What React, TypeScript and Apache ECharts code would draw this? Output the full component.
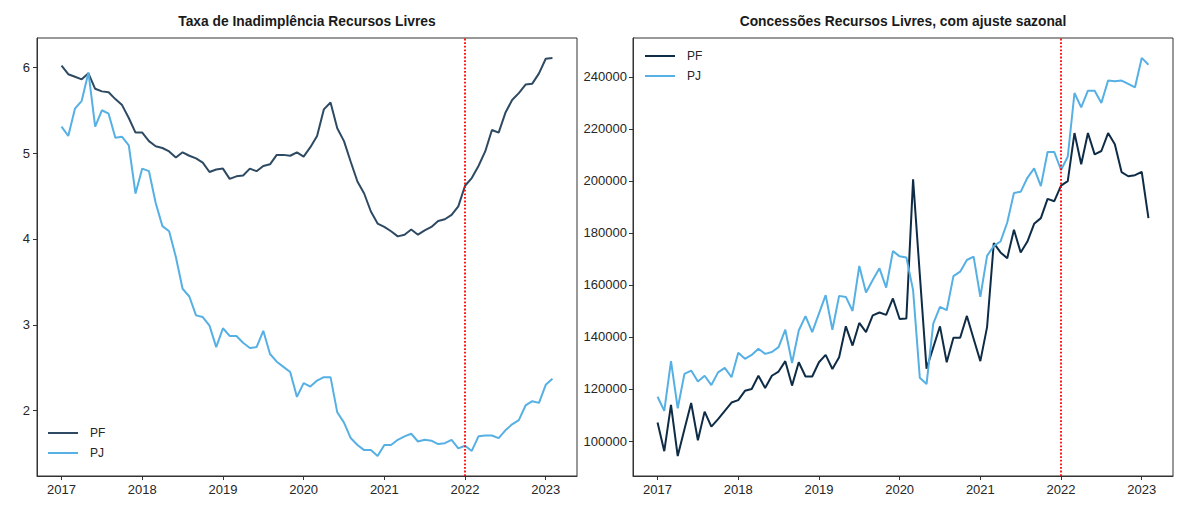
import React, { useEffect, useRef } from "react";
import * as echarts from "echarts";

// Monthly data, Jan 2017 .. Feb 2023 (74 months)
const startYear = 2017;
const monthCount = 74;

const yearTicks = [2017, 2018, 2019, 2020, 2021, 2022, 2023];
const rateTicks = [2, 3, 4, 5, 6];
const concTicks = [100000, 120000, 140000, 160000, 180000, 200000, 220000, 240000];
const markYear = 2022;

const titleLeft = "Taxa de Inadimplência Recursos Livres";
const titleRight = "Concessões Recursos Livres, com ajuste sazonal";

// Taxa de inadimplência (%)
const pfRate = [
  6.02, 5.92, 5.89, 5.86, 5.93, 5.75, 5.72, 5.71, 5.63, 5.56, 5.41, 5.24,
  5.24, 5.14, 5.08, 5.06, 5.02, 4.95, 5.01, 4.97, 4.94, 4.89, 4.78, 4.81,
  4.82, 4.7, 4.73, 4.74, 4.82, 4.79, 4.85, 4.87, 4.98, 4.98, 4.97, 5.01,
  4.96, 5.07, 5.2, 5.51, 5.59, 5.29, 5.14, 4.9, 4.67, 4.53, 4.32, 4.18,
  4.14, 4.09, 4.03, 4.05, 4.11, 4.05, 4.1, 4.14, 4.21, 4.23, 4.28, 4.38,
  4.62, 4.71, 4.85, 5.02, 5.27, 5.24, 5.47, 5.62, 5.7, 5.8, 5.81, 5.93,
  6.1, 6.11,
];
const pjRate = [
  5.31, 5.2, 5.52, 5.61, 5.94, 5.31, 5.5, 5.46, 5.18, 5.19, 5.09, 4.53,
  4.82, 4.79, 4.42, 4.15, 4.09, 3.79, 3.42, 3.33, 3.11, 3.09, 2.99, 2.74,
  2.96, 2.87, 2.87, 2.79, 2.73, 2.74, 2.93, 2.66, 2.57, 2.51, 2.45, 2.16,
  2.32, 2.28, 2.35, 2.39, 2.39, 1.98, 1.86, 1.68, 1.6, 1.54, 1.54, 1.47,
  1.6, 1.6, 1.66, 1.7, 1.73, 1.64, 1.66, 1.65, 1.61, 1.62, 1.66, 1.56,
  1.59, 1.53, 1.7, 1.71, 1.71, 1.68, 1.77, 1.84, 1.89, 2.06, 2.11, 2.09,
  2.3, 2.37,
];

// Concessões (com ajuste sazonal)
const pfConc = [
  107100, 96100, 113900, 94200, 104500, 114600, 100300, 111300, 105500, 108400, 111600, 114800,
  115700, 119300, 120000, 125100, 120400, 125100, 126700, 130700, 121300, 130300, 124800, 124800,
  130300, 133100, 127700, 132200, 144100, 136700, 145400, 141900, 148300, 149400, 148500, 154800,
  146900, 147100, 200600, 164000, 127800, 136000, 144100, 130300, 139700, 139700, 148100, 139300,
  130700, 143800, 176100, 172500, 170300, 181200, 172500, 176700, 183500, 185700, 193100, 192200,
  198200, 199900, 218400, 206400, 218400, 210200, 211500, 218400, 214100, 203400, 201800, 202200,
  203500, 185700,
];
const pjConc = [
  117000, 111600, 130700, 112600, 125800, 127100, 122900, 125100, 121500, 126400, 128100, 124500,
  133900, 131600, 133100, 135500, 133500, 134200, 136100, 142800, 130000, 142500, 148000, 141900,
  149000, 156100, 142800, 155800, 155400, 150000, 167300, 157100, 161900, 166400, 159000, 173000,
  171000, 170600, 158000, 124300, 121900, 145100, 151600, 150300, 163400, 165100, 169600, 170900,
  155400, 171200, 175000, 176700, 184000, 195400, 195800, 201200, 204800, 198000, 211100, 211100,
  204200, 209300, 233800, 228300, 234700, 234700, 230000, 238600, 238300, 238600, 237300, 236000,
  247300, 244700,
];

const xTime = Array.from({ length: monthCount }, (_, i) => startYear + i / 12);

const FONT = "'Liberation Sans', Arial, Helvetica, sans-serif";
const AX = "#333333";
const PF_LEFT = "#2e4a62";
const PF_RIGHT = "#0f2c46";
const PJ = "#56b0e4";

function padded(arrs: number[][]): [number, number] {
  const all = arrs.flat();
  const mn = Math.min(...all);
  const mx = Math.max(...all);
  const r = mx - mn;
  return [mn - 0.05 * r, mx + 0.05 * r];
}

function pairs(vals: number[]) {
  return vals.map((v, i) => [xTime[i], v]);
}

export default function App() {
  const ref = useRef<HTMLDivElement>(null);

  useEffect(() => {
    if (!ref.current) return;
    const chart = echarts.init(ref.current, null, { renderer: "svg" });

    const [xMin, xMax] = padded([xTime]);
    const [lMin, lMax] = padded([pfRate, pjRate]);
    const [rMin, rMax] = padded([pfConc, pjConc]);

    const grids = [
      { left: 37, top: 38, width: 540, height: 438 },
      { left: 633, top: 38, width: 540, height: 438 },
    ];

    const labelStyle = { color: "#262626", fontSize: 13, fontFamily: FONT };

    const xAxis = [0, 1].map((g) => ({
      type: "value",
      gridIndex: g,
      min: xMin,
      max: xMax,
      axisLine: { show: true, onZero: false, lineStyle: { color: AX, width: 1 } },
      axisTick: { show: true, length: 4, lineStyle: { color: AX }, customValues: yearTicks },
      axisLabel: { ...labelStyle, margin: 7, customValues: yearTicks, formatter: (v: number) => String(Math.round(v)) },
      splitLine: { show: false },
    }));

    const yAxis = [
      {
        type: "value",
        gridIndex: 0,
        min: lMin,
        max: lMax,
        axisLine: { show: true, onZero: false, lineStyle: { color: AX, width: 1 } },
        axisTick: { show: true, length: 4, lineStyle: { color: AX }, customValues: rateTicks },
        axisLabel: { ...labelStyle, margin: 7, customValues: rateTicks, formatter: (v: number) => String(Math.round(v)) },
        splitLine: { show: false },
      },
      {
        type: "value",
        gridIndex: 1,
        min: rMin,
        max: rMax,
        axisLine: { show: true, onZero: false, lineStyle: { color: AX, width: 1 } },
        axisTick: { show: true, length: 4, lineStyle: { color: AX }, customValues: concTicks },
        axisLabel: { ...labelStyle, margin: 6, customValues: concTicks, formatter: (v: number) => String(Math.round(v)) },
        splitLine: { show: false },
      },
    ];

    const markLine = {
      silent: true,
      symbol: ["none", "none"],
      label: { show: false },
      lineStyle: { color: "#ff0000", type: "dotted", width: 1.8 },
      data: [{ xAxis: markYear }],
      z: 10,
    };

    const lineSeries = (name: string, data: number[], g: number, color: string, withMark: boolean) => ({
      type: "line",
      name,
      xAxisIndex: g,
      yAxisIndex: g,
      data: pairs(data),
      symbol: "none",
      showSymbol: false,
      lineStyle: { color, width: 2 },
      itemStyle: { color },
      ...(withMark ? { markLine } : {}),
    });

    const legendBase = {
      orient: "vertical",
      icon: "rect",
      itemWidth: 30,
      itemHeight: 2,
      itemGap: 8,
      selectedMode: false,
      padding: 0,
      textStyle: { ...labelStyle, fontSize: 12, padding: [0, 0, 0, 7] },
    };

    const titleStyle = { fontSize: 13.8, fontWeight: "bold", color: "#1a1a1a", fontFamily: FONT };

    const option = {
      animation: false,
      backgroundColor: "#ffffff",
      title: [
        { text: titleLeft, left: 307, top: 14, textAlign: "center", padding: 0, textStyle: titleStyle },
        { text: titleRight, left: 903, top: 14, textAlign: "center", padding: 0, textStyle: titleStyle },
      ],
      legend: [
        {
          ...legendBase,
          left: 48,
          top: 427,
          data: [
            { name: "PF", itemStyle: { color: PF_LEFT } },
            { name: "PJ", itemStyle: { color: PJ } },
          ],
        },
        {
          ...legendBase,
          left: 645,
          top: 50,
          data: [
            { name: "PF", itemStyle: { color: PF_RIGHT } },
            { name: "PJ", itemStyle: { color: PJ } },
          ],
        },
      ],
      grid: grids.map((g) => ({ ...g, show: true, borderColor: AX, borderWidth: 1, backgroundColor: "transparent" })),
      xAxis,
      yAxis,
      series: [
        lineSeries("PF", pfRate, 0, PF_LEFT, true),
        lineSeries("PJ", pjRate, 0, PJ, false),
        lineSeries("PF", pfConc, 1, PF_RIGHT, true),
        lineSeries("PJ", pjConc, 1, PJ, false),
      ],
    };

    chart.setOption(option as any);
    return () => chart.dispose();
  }, []);

  return (
    <div
      ref={ref}
      style={{ position: "absolute", left: 0, top: 0, width: 1200, height: 521, background: "#fff" }}
    />
  );
}
